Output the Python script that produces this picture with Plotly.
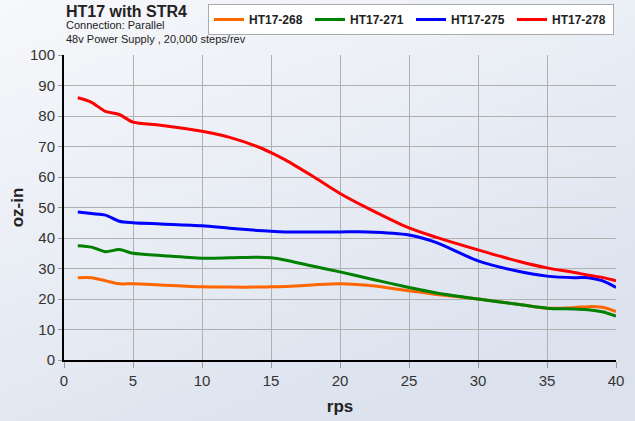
import base64
import plotly.graph_objects as go

rps = [1, 2, 3, 4, 5, 7, 10, 12, 14, 15, 16, 18, 20, 22, 25, 27, 30, 33, 35, 37, 38, 39, 40]

ht268 = [27, 27, 26, 25, 25, 24.6, 24, 23.9, 23.9, 24, 24.1, 24.6, 25, 24.5, 22.7, 21.5, 20, 18.2, 17, 17.2, 17.5, 17.3, 15.9]
ht271 = [37.5, 37, 35.5, 36.2, 35, 34.3, 33.4, 33.5, 33.7, 33.5, 32.8, 30.8, 28.9, 26.8, 23.8, 22, 20, 18.2, 17, 16.7, 16.5, 15.8, 14.4]
ht275 = [48.5, 48, 47.5, 45.5, 45, 44.6, 44, 43.2, 42.5, 42.2, 42, 42, 42, 42, 41, 38.5, 32.5, 29, 27.5, 27, 27, 26, 23.8]
ht278 = [86, 84.5, 81.5, 80.5, 78, 77, 75, 73, 70, 68, 65.7, 60.3, 54.6, 49.8, 43.3, 40.2, 36.1, 32.3, 30.2, 28.7, 27.8, 27.1, 26]

names = ["HT17-268", "HT17-271", "HT17-275", "HT17-278"]
colors = ["#ff6600", "#008000", "#0000ff", "#ff0000"]
series = [ht268, ht271, ht275, ht278]

svg = ('<svg xmlns="http://www.w3.org/2000/svg" width="635" height="421">'
       '<defs><linearGradient id="g" x1="0" y1="0" x2="0.6" y2="1">'
       '<stop offset="0" stop-color="#f7f8fb"/><stop offset="1" stop-color="#dbe2ee"/>'
       '</linearGradient></defs><rect width="635" height="421" fill="url(#g)"/></svg>')
uri = "data:image/svg+xml;base64," + base64.b64encode(svg.encode()).decode()

PW, PH = 552, 305

fig = go.Figure()
for n, c, s in zip(names, colors, series):
    fig.add_trace(go.Scatter(x=rps, y=s, name="<b>" + n + "</b>", mode="lines",
                             line=dict(color=c, width=3, shape="spline", smoothing=0.8)))

fig.update_layout(
    width=635, height=421,
    margin=dict(l=64, r=19, t=55, b=61, autoexpand=False),
    paper_bgcolor="#e9edf4",
    plot_bgcolor="white",
    font=dict(family="Liberation Sans, Arial, sans-serif", color="#333333"),
    images=[dict(source=uri, xref="paper", yref="paper", x=-64/PW, y=1+55/PH,
                 sizex=635/PW, sizey=421/PH, xanchor="left", yanchor="top",
                 sizing="stretch", layer="below")],
    showlegend=True,
    legend=dict(orientation="h", xref="container", yref="container",
                x=614/635, y=1-4/421, xanchor="right", yanchor="top",
                bgcolor="white", bordercolor="#aaaaaa", borderwidth=1,
                font=dict(size=12, color="#222222", family="Liberation Sans, Arial, sans-serif"),
                itemwidth=30, entrywidth=56, entrywidthmode="pixels", tracegroupgap=0),
    annotations=[
        dict(text="<b>HT17 with STR4</b>", xref="paper", yref="paper",
             x=0.0, y=1 + 43/PH, xanchor="left", yanchor="middle", showarrow=False,
             font=dict(size=16, color="#222222")),
        dict(text="Connection: Parallel", xref="paper", yref="paper",
             x=0.0, y=1 + 30/PH, xanchor="left", yanchor="middle", showarrow=False,
             font=dict(size=11, color="#222222")),
        dict(text="48v Power Supply , 20,000 steps/rev", xref="paper", yref="paper",
             x=0.0, y=1 + 16/PH, xanchor="left", yanchor="middle", showarrow=False,
             font=dict(size=11, color="#222222")),
    ],
)
fig.update_xaxes(range=[0, 40], dtick=5, showgrid=True, gridcolor="#b0b0b0", gridwidth=1,
                 showline=True, linecolor="black", linewidth=2, ticks="outside",
                 tickcolor="#999999", ticklen=6, tickfont=dict(size=15, color="#333333"),
                 title=dict(text="<b>rps</b>", font=dict(size=17, color="#222222"), standoff=12),
                 zeroline=False, automargin=False)
fig.update_yaxes(range=[0, 100], dtick=10, showgrid=True, gridcolor="#b0b0b0", gridwidth=1,
                 showline=True, linecolor="black", linewidth=2, ticks="outside",
                 tickcolor="#999999", ticklen=4, tickfont=dict(size=15, color="#333333"),
                 title=dict(text="<b>oz-in</b>", font=dict(size=17, color="#222222"), standoff=2),
                 zeroline=False, automargin=False)

fig.write_html("out.html", config={"displayModeBar": False},
               post_script="document.body.style.margin='0';")
